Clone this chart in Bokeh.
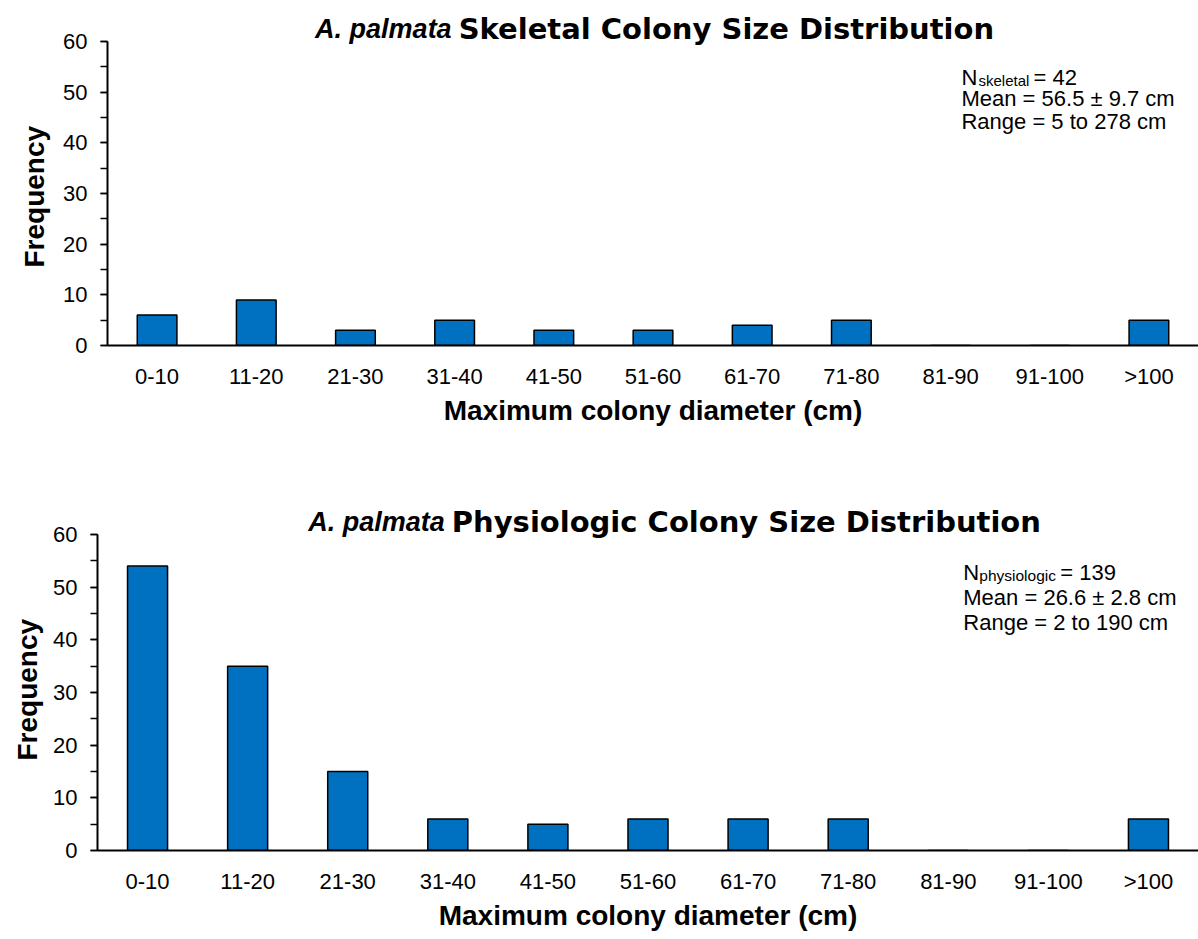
from bokeh.plotting import figure
from bokeh.models import Label, SingleIntervalTicker, FactorRange, Range1d, Title
from bokeh.layouts import column
from bokeh.embed import file_html
from bokeh.resources import INLINE

categories = ["0-10", "11-20", "21-30", "31-40", "41-50", "51-60",
              "61-70", "71-80", "81-90", "91-100", ">100"]
skeletal_counts = [6, 9, 3, 5, 3, 3, 4, 5, 0, 0, 5]
physiologic_counts = [54, 35, 15, 6, 5, 6, 6, 6, 0, 0, 6]

skeletal_title = "Skeletal Colony Size Distribution"
physiologic_title = "Physiologic Colony Size Distribution"
species = "A. palmata"
x_title = "Maximum colony diameter (cm)"
y_title = "Frequency"

skeletal_stats = ["skeletal", "= 42", "Mean = 56.5 \u00b1 9.7 cm", "Range = 5 to 278 cm"]
physiologic_stats = ["physiologic", "= 139", "Mean = 26.6 \u00b1 2.8 cm", "Range = 2 to 190 cm"]

FONT = "Liberation Sans"
TITLE_FONT = "DejaVu Sans"
BAR = "#0070C0"
Y_MAX = 60


def make_fig(counts, title_rest, stats, height, mb_left, frame_h, axis_px,
             stat_x, stat_ys, sub_off, sub_size, eq_off, ylab_offset,
             ylab_standoff):
    y_end = Y_MAX * frame_h / axis_px
    p = figure(x_range=FactorRange(factors=categories), y_range=Range1d(0, y_end),
               width=1198, height=height, output_backend="svg",
               toolbar_location=None, min_border_left=mb_left,
               min_border_right=0, min_border_top=0,
               min_border_bottom=height - frame_h)
    p.frame_align = False
    p.outline_line_color = None
    p.xgrid.grid_line_color = None
    p.ygrid.grid_line_color = None
    p.background_fill_color = "white"
    p.border_fill_color = "white"

    p.vbar(x=categories, top=counts, width=0.4, fill_color=BAR,
           line_color="black", line_width=1.5)

    # y axis
    ya = p.yaxis[0]
    ya.bounds = (0, Y_MAX)
    ya.ticker = SingleIntervalTicker(interval=10, num_minor_ticks=2)
    ya.axis_line_width = 2
    ya.axis_line_color = "black"
    ya.major_tick_line_width = 1.5
    ya.minor_tick_line_width = 1.5
    ya.major_tick_line_color = "black"
    ya.minor_tick_line_color = "black"
    ya.major_tick_out = 7
    ya.major_tick_in = 0
    ya.minor_tick_out = 7
    ya.minor_tick_in = 0
    ya.major_label_standoff = 13
    ya.major_label_text_font = FONT
    ya.major_label_text_font_size = "22px"
    ya.major_label_text_color = "black"

    # y axis title, centred on the 0-60 span
    p.add_layout(Title(text=y_title, align="left", offset=ylab_offset,
                       vertical_align="top",
                       text_font=FONT, text_font_size="28px",
                       text_font_style="bold", text_color="black",
                       standoff=ylab_standoff), "left")

    # x axis
    xa = p.xaxis[0]
    xa.axis_line_width = 2
    xa.axis_line_color = "black"
    xa.major_tick_line_color = None
    xa.minor_tick_line_color = None
    xa.major_tick_out = 0
    xa.major_tick_in = 0
    xa.major_label_standoff = 18
    xa.major_label_text_font = FONT
    xa.major_label_text_font_size = "22px"
    xa.major_label_text_color = "black"
    xa.axis_label = x_title
    xa.axis_label_text_font = FONT
    xa.axis_label_text_font_size = "28px"
    xa.axis_label_text_font_style = "bold"
    xa.axis_label_text_color = "black"
    xa.axis_label_standoff = 3

    # chart title (italic species + bold rest), above the 60 line
    p.add_layout(Label(x=3.5, y=Y_MAX, y_offset=13, x_offset=-3, text=species,
                       text_font=FONT, text_font_size="27px",
                       text_font_style="bold italic", text_align="right",
                       text_baseline="alphabetic", text_color="black"))
    p.add_layout(Label(x=3.5, y=Y_MAX, y_offset=13, x_offset=4, text=title_rest,
                       text_font=TITLE_FONT, text_font_size="29px",
                       text_font_style="bold", text_align="left",
                       text_baseline="alphabetic", text_color="black"))

    # statistics box
    sub, eq, mean, rng = stats
    y1, y2, y3 = stat_ys
    common = dict(text_font=FONT, text_baseline="alphabetic",
                  text_align="left", text_color="black")
    p.add_layout(Label(x=stat_x, y=y1, text="N", text_font_size="22px", **common))
    p.add_layout(Label(x=stat_x, y=y1, x_offset=sub_off, y_offset=-3, text=sub,
                       text_font_size=sub_size, **common))
    p.add_layout(Label(x=stat_x, y=y1, x_offset=eq_off, text=eq,
                       text_font_size="22px", **common))
    p.add_layout(Label(x=stat_x, y=y2, text=mean, text_font_size="22px", **common))
    p.add_layout(Label(x=stat_x, y=y3, text=rng, text_font_size="22px", **common))
    return p


H1 = 448
p1 = make_fig(skeletal_counts, skeletal_title, skeletal_stats, height=H1,
              mb_left=107, frame_h=345, axis_px=304,
              stat_x=8.61, stat_ys=(52.95, 48.69, 44.27),
              sub_off=17, sub_size="15px", eq_off=72, ylab_offset=78,
              ylab_standoff=17)
p2 = make_fig(physiologic_counts, physiologic_title, physiologic_stats,
              height=939 - H1, mb_left=97, frame_h=850 - H1, axis_px=316,
              stat_x=8.65, stat_ys=(52.84, 48.09, 43.35),
              sub_off=16, sub_size="15.5px", eq_off=97, ylab_offset=90,
              ylab_standoff=12)

layout = column(p1, p2, spacing=0)
open("out.html", "w").write(file_html(layout, INLINE))
